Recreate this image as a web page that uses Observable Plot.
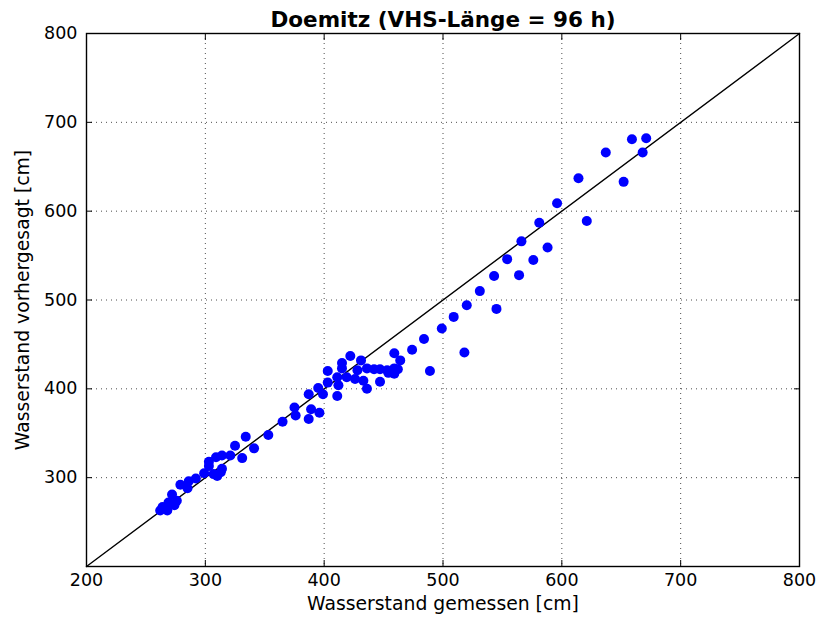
<!DOCTYPE html>
<html>
<head>
<meta charset="utf-8">
<script src="https://cdn.jsdelivr.net/npm/d3@7"></script>
<script src="https://cdn.jsdelivr.net/npm/@observablehq/plot@0.6"></script>
<style>
  html, body { margin: 0; padding: 0; background: #fff; }
</style>
</head>
<body>
<div id="chart"></div>
<script>
const title = "Doemitz (VHS-Länge = 96 h)";
const xLabel = "Wasserstand gemessen [cm]";
const yLabel = "Wasserstand vorhergesagt [cm]";

const xTicks = [200, 300, 400, 500, 600, 700, 800];
const yTicks = [300, 400, 500, 600, 700, 800];
const gridTicks = [300, 400, 500, 600, 700];
const identityLine = [200, 800];

const measured = [
  671, 659, 637, 668, 652, 614, 596, 621, 581, 566,
  588, 554, 576, 543, 564, 531, 520, 545, 509, 499,
  484, 518, 489, 474, 459, 464, 422, 415, 431, 415,
  403, 428, 436, 442, 447, 453, 458, 462, 454, 459,
  459, 411, 419, 426, 433, 447, 403, 412, 436, 395,
  387, 399, 411, 375, 376, 389, 396, 387, 365, 353,
  334, 341, 325, 331, 321, 314, 309, 303, 303, 314,
  307, 313, 310, 299, 292, 286, 279, 285, 272, 276,
  269, 264, 274, 268, 262
];
const predicted = [
  682, 681, 666, 666, 633, 637, 609, 589, 587, 566,
  559, 546, 545, 527, 528, 510, 494, 490, 481, 468,
  456, 441, 420, 444, 440, 432, 437, 429, 432, 423,
  420, 421, 423, 422, 422, 421, 420, 422, 418, 423,
  417, 413, 413, 411, 409, 408, 407, 404, 400, 401,
  394, 394, 392, 379, 370, 377, 373, 366, 363, 348,
  346, 333, 336, 322, 325, 325, 323, 318, 313, 310,
  304, 306, 302, 305, 299, 296, 292, 288, 281, 274,
  272, 267, 269, 263, 263
];

const points = measured.map((m, i) => ({measured: m, predicted: predicted[i]}));

const chart = Plot.plot({
  width: 821,
  height: 628,
  marginLeft: 86,
  marginRight: 22,
  marginTop: 33,
  marginBottom: 62,
  style: {fontFamily: "DejaVu Sans", fontSize: "17px", background: "#fff", color: "#000"},
  x: {domain: [200, 800]},
  y: {domain: [200, 800]},
  marks: [
    Plot.gridX(gridTicks, {stroke: "#000", strokeOpacity: 0.7, strokeDasharray: "1,4", strokeWidth: 1}),
    Plot.gridY(gridTicks, {stroke: "#000", strokeOpacity: 0.7, strokeDasharray: "1,4", strokeWidth: 1}),
    Plot.line(identityLine, {x: d => d, y: d => d, stroke: "#000", strokeWidth: 1.4}),
    Plot.dot(points, {x: "measured", y: "predicted", r: 5, fill: "#0000ff", stroke: "none"}),
    Plot.frame({stroke: "#000", strokeWidth: 1.4}),
    Plot.axisX({ticks: xTicks, anchor: "bottom", tickSize: -6, tickPadding: 13, label: null, fontSize: 17.5}),
    Plot.axisX({ticks: xTicks, anchor: "top", tickSize: -6, tickFormat: () => "", label: null}),
    Plot.axisY({ticks: yTicks, anchor: "left", tickSize: -6, tickPadding: 15, label: null, fontSize: 17.5}),
    Plot.axisY({ticks: yTicks, anchor: "right", tickSize: -6, tickFormat: () => "", label: null}),
    Plot.text([xLabel], {frameAnchor: "bottom", dy: 43, fontSize: 18.8, text: d => d}),
    Plot.text([yLabel], {frameAnchor: "left", dx: -64, rotate: -90, textAnchor: "middle", fontSize: 18.8, text: d => d}),
    Plot.text([title], {frameAnchor: "top", lineAnchor: "bottom", dy: -7, fontSize: 21.5, fontWeight: "bold", text: d => d})
  ]
});
document.getElementById("chart").appendChild(chart);
</script>
</body>
</html>
